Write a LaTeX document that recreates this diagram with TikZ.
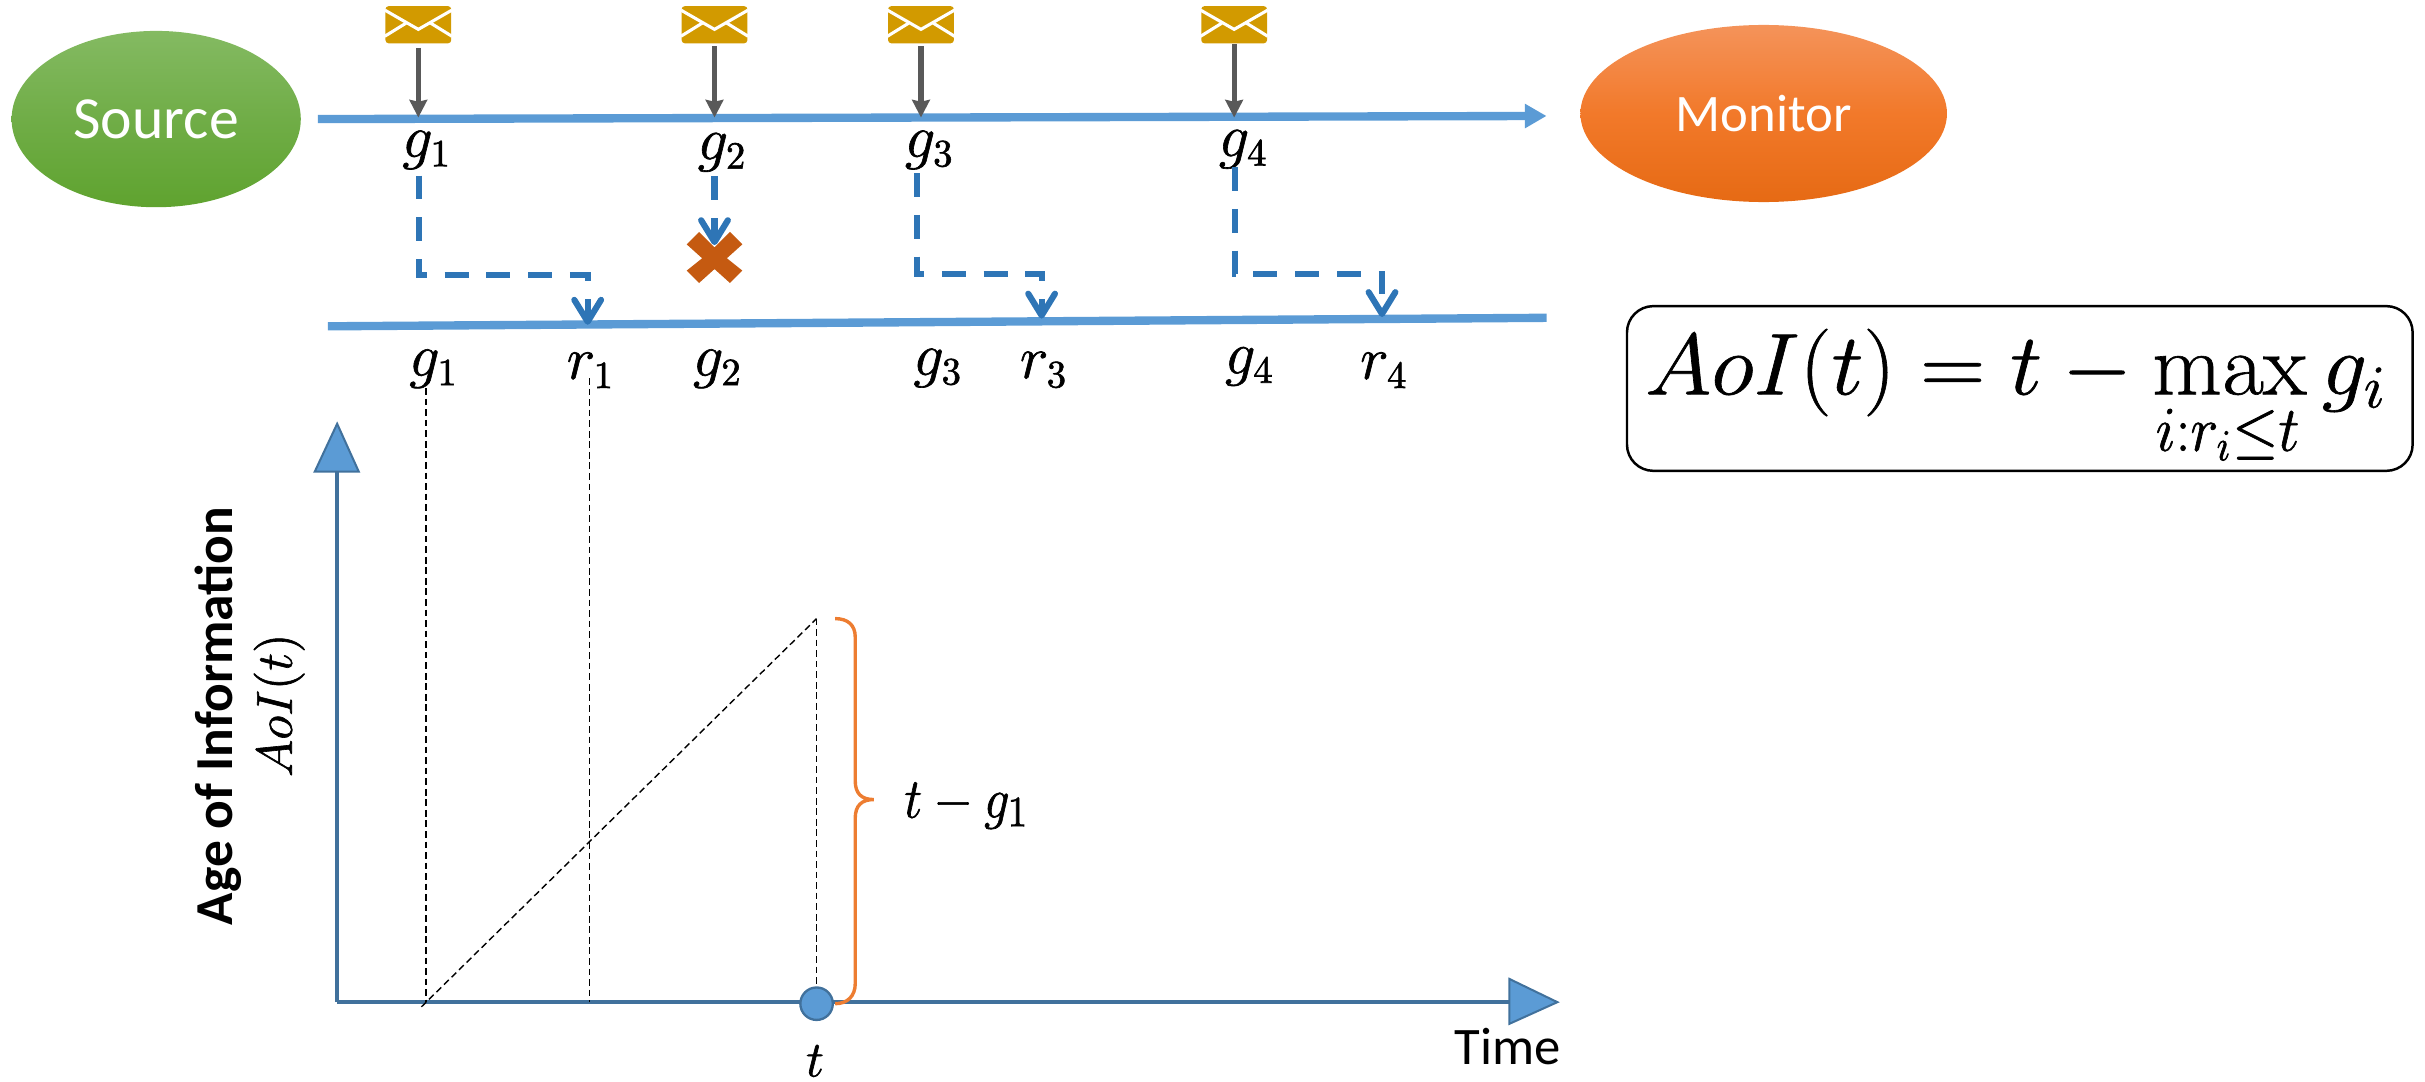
\documentclass[tikz,border=0pt]{standalone}
\usepackage[no-math]{fontspec}
\setmainfont{Carlito}
\usepackage{amsmath}
\usetikzlibrary{arrows.meta,shapes.geometric,calc}
\definecolor{lineblue}{HTML}{5B9BD5}
\definecolor{dashblue}{HTML}{2E75B6}
\definecolor{axisblue}{HTML}{41719C}
\definecolor{grayarrow}{HTML}{595959}
\definecolor{envgold}{HTML}{D29A00}
\definecolor{crossor}{HTML}{C55A11}
\definecolor{braceor}{HTML}{ED7D31}
\definecolor{srctop}{HTML}{84BA62}\definecolor{srcmid}{HTML}{70AD47}\definecolor{srcbot}{HTML}{5FA32F}
\definecolor{montop}{HTML}{F4935A}\definecolor{monmid}{HTML}{F2792A}\definecolor{monbot}{HTML}{E66A14}
\newlength{\pxu}\setlength{\pxu}{0.15466mm}
\newcommand{\heavy}[1]{\special{pdf:code 2 Tr 0.18 w}#1\special{pdf:code 0 Tr}}
\newcommand{\mlab}[1]{\heavy{$#1$}}
\tikzset{
  blob/.style={ellipse,inner sep=0pt,text=white},
  sourceblob/.style={blob,minimum width=187\pxu,minimum height=114\pxu,top color=srctop,bottom color=srcbot,middle color=srcmid},
  monitorblob/.style={blob,minimum width=237\pxu,minimum height=114.5\pxu,top color=montop,bottom color=monbot,middle color=monmid},
  busline/.style={draw=lineblue,line width=5.4\pxu},
  dropline/.style={draw=grayarrow,line width=3.3\pxu,-{Stealth[length=5pt,width=5pt,inset=0.5pt]}},
  bluetip/.style={-{Straight Barb[length=6.2pt,width=7.6pt,line width=1.75pt,round]}},
  pathdash/.style={draw=dashblue,line width=4\pxu,dash pattern=on 15.5\pxu off 11.5\pxu,bluetip},
  guide/.style={draw=black,line width=0.4pt,dash pattern=on 1.9pt off 1.1pt},
  axisline/.style={draw=axisblue,line width=3\pxu},
  axishead/.style={fill=lineblue,draw=axisblue,line width=1.3\pxu},
  mathlabel/.style={inner sep=0pt,font=\fontsize{16}{19}\selectfont},
  envelope/.style={draw=none,fill=envgold,rounded corners=2\pxu,minimum width=42.5\pxu,minimum height=24\pxu,inner sep=0pt},
  envline/.style={white,line width=2\pxu},
}
\begin{document}
\begin{tikzpicture}[x=0.15466mm,y=-0.15466mm]
\useasboundingbox (0,0) rectangle (1568,699);
\node[sourceblob,font=\fontsize{17}{20}\selectfont] (source) at (101,77) {Source};
\node[monitorblob,font=\fontsize{15}{18}\selectfont] (monitor) at (1140.4,73.4) {Monitor};
\coordinate (busAstart) at (205.5,77);
\coordinate (busAend) at (1000,75);
\coordinate (busBstart) at (212,211);
\coordinate (busBend) at (1000,205.5);
\draw[busline,-{Triangle[length=6.2pt,width=6.6pt]}] (busAstart) -- (busAend);
\draw[busline] (busBstart) -- (busBend);
% envelopes
\foreach \n/\x/\ys in {1/270.5/31,2/462/30,3/595.5/30,4/798/28.5}{
  \node[envelope] (env\n) at (\x,16) {};
  \draw[envline] ($(env\n.north west)+(0,3)$) -- ($(env\n.center)+(0,3)$) -- ($(env\n.north east)+(0,3)$);
  \draw[envline] ($(env\n.south west)+(0,-5)$) -- ($(env\n.center)+(-8,-1)$);
  \draw[envline] ($(env\n.south east)+(0,-5)$) -- ($(env\n.center)+(8,-1)$);
  \coordinate (hit\n) at (\x,76);
  \coordinate (drop\n) at (\x,\ys);
  \draw[dropline] (drop\n) -- (hit\n);
}
% labels upper
\node[mathlabel] (ga1) at (276,97) {\mlab{g_1}};
\node[mathlabel] (ga2) at (467,98.5) {\mlab{g_2}};
\node[mathlabel] (ga3) at (601,97) {\mlab{g_3}};
\node[mathlabel] (ga4) at (804,96.5) {\mlab{g_4}};
% dashed paths
\coordinate (d1s) at (271,113.5); \coordinate (d1e) at (380,210);
\coordinate (d2s) at (462,114); \coordinate (d2e) at (462,158.5);
\coordinate (d3s) at (593,112); \coordinate (d3e) at (673.5,206);
\coordinate (d4s) at (798.5,108); \coordinate (d4e) at (893.6,205);
% cross
\fill[crossor] (444,158) -- (452,150) -- (462,160) -- (472,150) -- (480,158) -- (470,167) -- (480,175) -- (472,183) -- (462,174) -- (452,183) -- (444,175) -- (454,167) -- cycle;
\draw[pathdash] (d1s) |- (380,178) -- (d1e);
\draw[pathdash] (d2s) -- (d2e);
\draw[pathdash] (d3s) |- (673.5,177) -- (d3e);
\draw[pathdash] (d4s) |- (893.6,177) -- (d4e);
% labels lower
\node[mathlabel] (gb1) at (280.5,238.5) {\mlab{g_1}};
\node[mathlabel] (rb1) at (382,239.5) {\mlab{r_1}};
\node[mathlabel] (gb2) at (464,238.5) {\mlab{g_2}};
\node[mathlabel] (gb3) at (606.5,238) {\mlab{g_3}};
\node[mathlabel] (rb3) at (675,239) {\mlab{r_3}};
\node[mathlabel] (gb4) at (808,237) {\mlab{g_4}};
\node[mathlabel] (rb4) at (895,239.5) {\mlab{r_4}};
% formula
\node[draw=black,line width=1.6\pxu,rounded corners=17\pxu,minimum width=508\pxu,minimum height=106.5\pxu,inner sep=0pt] (formula) at (1306,251.2) {};
\node[inner sep=0pt,anchor=base,font=\fontsize{25}{30}\selectfont] (formulatext) at (1303.5,255) {\scalebox{1.03}[1]{\heavy{$AoI(t)=t-\max\limits_{\scalebox{0.95}[1.05]{$\scriptstyle i:r_i\leq t$}} g_i$}}};
% axes
\coordinate (origin) at (218,648);
\coordinate (ytip) at (218,305);
\coordinate (xtip) at (976,648);
\draw[axisline] (origin) -- (ytip);
\draw[axisline] (origin) -- (xtip);
\draw[axishead] (203.5,305) -- (218,274) -- (232,305) -- cycle;
\draw[axishead] (976,633) -- (1007,648) -- (976,662) -- cycle;
% guides
\coordinate (g1top) at (275.5,251); \coordinate (g1bot) at (275.5,648);
\coordinate (r1top) at (381,244.5); \coordinate (r1bot) at (381,648);
\coordinate (peak) at (528,400);
\draw[guide] (g1top) -- (g1bot);
\draw[guide] (r1top) -- (r1bot);
\draw[guide] (g1bot) ++(-3,3) -- (peak);
\node[ellipse,draw=axisblue,fill=lineblue,line width=1.5\pxu,minimum width=21\pxu,minimum height=21\pxu,inner sep=0pt] (tdot) at (528,649) {};
\draw[guide] (peak) -- (tdot.north);
% brace
\draw[braceor,line width=2.2\pxu] (540,400) .. controls (548,400) and (553,404) .. (553,412) -- (553,505) .. controls (553,513) and (557,517) .. (565,517) .. controls (557,517) and (553,521) .. (553,529) -- (553,636) .. controls (553,644) and (548,649) .. (540,649);
\node[inner sep=0pt,font=\fontsize{15}{18}\selectfont] (tg) at (625,521) {\scalebox{1}[1.12]{\heavy{$t-g_1$}}};
\node[inner sep=0pt,font=\fontsize{13.5}{16}\selectfont] (tl) at (527,686) {\mlab{t}};
\node[inner sep=0pt,font=\fontsize{15}{18}\selectfont] (time) at (975,677) {Time};
\node[inner sep=0pt,rotate=90,font=\bfseries\fontsize{15.2}{18}\selectfont] (age) at (141,463) {Age of Information};
\node[inner sep=0pt,rotate=90,font=\fontsize{15.5}{18}\selectfont] (aoi) at (180.5,456) {\heavy{$AoI(t)$}};
\end{tikzpicture}
\end{document}
